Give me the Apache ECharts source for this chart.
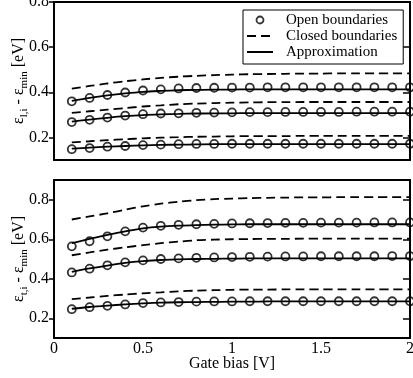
<!DOCTYPE html>
<html>
<head>
<meta charset="utf-8">
<script src="https://cdn.jsdelivr.net/npm/echarts@6/dist/echarts.min.js"></script>
<style>
  html, body { margin: 0; padding: 0; background: #fff; }
  #chart { width: 413px; height: 378px; }
</style>
</head>
<body>
<div id="chart"></div>
<script>
// gate bias values (x) shared by every curve
const gateBias = [0.1, 0.2, 0.3, 0.4, 0.5, 0.6, 0.7, 0.8, 0.9, 1.0,
                  1.1, 1.2, 1.3, 1.4, 1.5, 1.6, 1.7, 1.8, 1.9, 2.0];

// top panel (eps_l,i - eps_min)
const openTop1 = [0.148, 0.153, 0.159, 0.162, 0.166, 0.168, 0.170, 0.171, 0.171, 0.172, 0.172, 0.172, 0.172, 0.172, 0.172, 0.172, 0.172, 0.172, 0.172, 0.172];
const openTop2 = [0.268, 0.278, 0.288, 0.297, 0.303, 0.306, 0.307, 0.309, 0.310, 0.311, 0.312, 0.312, 0.313, 0.313, 0.313, 0.313, 0.314, 0.314, 0.314, 0.314];
const openTop3 = [0.360, 0.375, 0.388, 0.399, 0.408, 0.413, 0.417, 0.419, 0.420, 0.421, 0.421, 0.422, 0.422, 0.422, 0.422, 0.422, 0.422, 0.422, 0.422, 0.422];
const closedTop1 = [0.178, 0.183, 0.188, 0.192, 0.196, 0.199, 0.201, 0.203, 0.204, 0.205, 0.206, 0.206, 0.206, 0.207, 0.207, 0.207, 0.207, 0.207, 0.207, 0.207];
const closedTop2 = [0.309, 0.316, 0.323, 0.330, 0.337, 0.342, 0.347, 0.350, 0.352, 0.354, 0.355, 0.356, 0.356, 0.357, 0.357, 0.357, 0.357, 0.357, 0.357, 0.357];
const closedTop3 = [0.416, 0.428, 0.439, 0.449, 0.457, 0.464, 0.469, 0.473, 0.476, 0.478, 0.480, 0.481, 0.482, 0.483, 0.483, 0.484, 0.484, 0.484, 0.484, 0.484];
const approxTop1 = [0.150, 0.155, 0.159, 0.162, 0.165, 0.167, 0.168, 0.169, 0.170, 0.170, 0.170, 0.170, 0.170, 0.170, 0.170, 0.170, 0.170, 0.170, 0.170, 0.170];
const approxTop2 = [0.270, 0.279, 0.287, 0.294, 0.299, 0.302, 0.304, 0.306, 0.307, 0.307, 0.308, 0.308, 0.308, 0.308, 0.308, 0.308, 0.308, 0.308, 0.308, 0.308];
const approxTop3 = [0.362, 0.375, 0.386, 0.395, 0.402, 0.406, 0.409, 0.411, 0.412, 0.412, 0.413, 0.413, 0.413, 0.413, 0.413, 0.413, 0.413, 0.413, 0.413, 0.413];

// bottom panel (eps_t,i - eps_min)
const openBot1 = [0.246, 0.256, 0.263, 0.270, 0.277, 0.280, 0.282, 0.284, 0.285, 0.285, 0.286, 0.286, 0.286, 0.286, 0.286, 0.286, 0.286, 0.286, 0.286, 0.286];
const openBot2 = [0.432, 0.451, 0.468, 0.483, 0.493, 0.500, 0.503, 0.506, 0.508, 0.510, 0.511, 0.512, 0.513, 0.513, 0.514, 0.514, 0.514, 0.514, 0.515, 0.515];
const openBot3 = [0.564, 0.590, 0.615, 0.640, 0.659, 0.668, 0.673, 0.676, 0.678, 0.680, 0.681, 0.682, 0.683, 0.683, 0.684, 0.684, 0.684, 0.685, 0.685, 0.685];
const closedBot1 = [0.297, 0.305, 0.313, 0.320, 0.326, 0.331, 0.336, 0.340, 0.342, 0.344, 0.345, 0.345, 0.346, 0.346, 0.346, 0.346, 0.346, 0.346, 0.346, 0.346];
const closedBot2 = [0.519, 0.533, 0.547, 0.559, 0.570, 0.580, 0.588, 0.595, 0.598, 0.600, 0.601, 0.602, 0.602, 0.603, 0.603, 0.603, 0.603, 0.603, 0.603, 0.603];
const closedBot3 = [0.700, 0.716, 0.731, 0.750, 0.767, 0.780, 0.790, 0.798, 0.803, 0.806, 0.808, 0.810, 0.811, 0.812, 0.812, 0.813, 0.813, 0.813, 0.813, 0.813];
const approxBot1 = [0.248, 0.257, 0.264, 0.270, 0.275, 0.279, 0.281, 0.282, 0.283, 0.284, 0.284, 0.285, 0.285, 0.285, 0.285, 0.285, 0.285, 0.285, 0.285, 0.285];
const approxBot2 = [0.435, 0.452, 0.467, 0.480, 0.489, 0.495, 0.498, 0.500, 0.501, 0.502, 0.503, 0.503, 0.503, 0.503, 0.503, 0.503, 0.503, 0.503, 0.503, 0.503];
const approxBot3 = [0.580, 0.602, 0.622, 0.640, 0.655, 0.664, 0.669, 0.672, 0.674, 0.675, 0.676, 0.676, 0.676, 0.676, 0.676, 0.676, 0.676, 0.676, 0.676, 0.676];

const yTicks = [0.2, 0.4, 0.6, 0.8];

const FONT = "'Liberation Serif', 'Times New Roman', serif";

function pairs(ys) {
  return gateBias.map((x, i) => [x, ys[i]]);
}

const chart = echarts.init(document.getElementById('chart'), null, { renderer: 'canvas' });

const frame = { show: true, onZero: false, lineStyle: { color: '#000', width: 2 } };

function xAxisFor(grid, showLabels) {
  return [{
    gridIndex: grid, type: 'value', min: 0, max: 2, interval: 0.5, position: 'bottom',
    axisLine: frame,
    axisTick: { show: false },
    splitLine: { show: false },
    axisLabel: {
      show: showLabels, margin: 3, color: '#000', fontFamily: FONT, fontSize: 16,
      formatter: v => String(v)
    },
    name: showLabels ? 'Gate bias [V]' : '',
    nameLocation: 'middle', nameGap: 18, nameMoveOverlap: false,
    nameTextStyle: { color: '#000', fontFamily: FONT, fontSize: 16 }
  }, {
    gridIndex: grid, type: 'value', min: 0, max: 2, position: 'top',
    axisLine: frame, axisTick: { show: false }, axisLabel: { show: false }, splitLine: { show: false }
  }];
}

function yAxisFor(grid, max, sub) {
  return [{
    gridIndex: grid, type: 'value', min: 0.1, max: max, position: 'left',
    axisLine: frame,
    axisTick: { show: true, length: 5, customValues: yTicks, lineStyle: { color: '#000', width: 1.5 } },
    splitLine: { show: false },
    axisLabel: {
      customValues: yTicks, margin: 5, color: '#000', fontFamily: FONT, fontSize: 16,
      formatter: v => v.toFixed(1)
    },
    name: '{e|ε}{s|' + sub + '}{e| - ε}{s|min}{e| [eV]}',
    nameLocation: 'middle', nameGap: 24, nameMoveOverlap: false,
    nameTextStyle: {
      color: '#000', fontFamily: FONT,
      rich: {
        e: { fontFamily: FONT, fontSize: 16, lineHeight: 19, verticalAlign: 'top', color: '#000' },
        s: { fontFamily: FONT, fontSize: 11, lineHeight: 19, verticalAlign: 'bottom', color: '#000' }
      }
    }
  }, {
    gridIndex: grid, type: 'value', min: 0.1, max: max, position: 'right',
    axisLine: frame,
    axisTick: { show: true, inside: true, length: 7, customValues: yTicks, lineStyle: { color: '#000', width: 1.5 } },
    axisLabel: { show: false },
    splitLine: { show: false }
  }];
}

function openSeries(ys, xi, yi) {
  return {
    name: 'Open boundaries', type: 'scatter', xAxisIndex: xi, yAxisIndex: yi,
    data: pairs(ys), symbol: 'circle', symbolSize: 8, z: 5,
    itemStyle: { color: 'rgba(0,0,0,0)', borderColor: '#000', borderWidth: 1.8 }
  };
}

function closedSeries(ys, xi, yi) {
  return {
    name: 'Closed boundaries', type: 'line', xAxisIndex: xi, yAxisIndex: yi,
    data: pairs(ys), symbol: 'none', showSymbol: false, smooth: 0.3,
    itemStyle: { color: 'rgba(0,0,0,0)' },
    lineStyle: { color: '#000', width: 1.8, type: [9, 5] }
  };
}

function approxSeries(ys, xi, yi) {
  return {
    name: 'Approximation', type: 'line', xAxisIndex: xi, yAxisIndex: yi,
    data: pairs(ys), symbol: 'none', showSymbol: false, smooth: 0.3,
    itemStyle: { color: 'rgba(0,0,0,0)' },
    lineStyle: { color: '#000', width: 1.8, type: 'solid' }
  };
}

const option = {
  animation: false,
  backgroundColor: '#fff',
  grid: [
    { left: 54, right: 3, top: 2, height: 158, outerBoundsMode: 'none' },
    { left: 54, right: 3, top: 180, height: 158, outerBoundsMode: 'none' }
  ],
  xAxis: [...xAxisFor(0, false), ...xAxisFor(1, true)],
  yAxis: [...yAxisFor(0, 0.8, 'l,i'), ...yAxisFor(1, 0.9, 't,i')],
  legend: {
    orient: 'vertical', left: 243, top: 10,
    padding: [2, 6, 4, 3], itemGap: 0, itemWidth: 26, itemHeight: 7,
    borderColor: '#000', borderWidth: 1, backgroundColor: '#fff',
    selectedMode: false,
    textStyle: { color: '#000', fontFamily: FONT, fontSize: 15, lineHeight: 16, padding: [0, 0, 0, 8] },
    data: [
      { name: 'Open boundaries', icon: 'circle',
        itemStyle: { color: 'rgba(0,0,0,0)', borderColor: '#000', borderWidth: 1.8 } },
      { name: 'Closed boundaries' },
      { name: 'Approximation' }
    ]
  },
  series: [
    closedSeries(closedTop1, 0, 0), closedSeries(closedTop2, 0, 0), closedSeries(closedTop3, 0, 0),
    approxSeries(approxTop1, 0, 0), approxSeries(approxTop2, 0, 0), approxSeries(approxTop3, 0, 0),
    openSeries(openTop1, 0, 0), openSeries(openTop2, 0, 0), openSeries(openTop3, 0, 0),
    closedSeries(closedBot1, 2, 2), closedSeries(closedBot2, 2, 2), closedSeries(closedBot3, 2, 2),
    approxSeries(approxBot1, 2, 2), approxSeries(approxBot2, 2, 2), approxSeries(approxBot3, 2, 2),
    openSeries(openBot1, 2, 2), openSeries(openBot2, 2, 2), openSeries(openBot3, 2, 2)
  ]
};

chart.setOption(option);
</script>
</body>
</html>
